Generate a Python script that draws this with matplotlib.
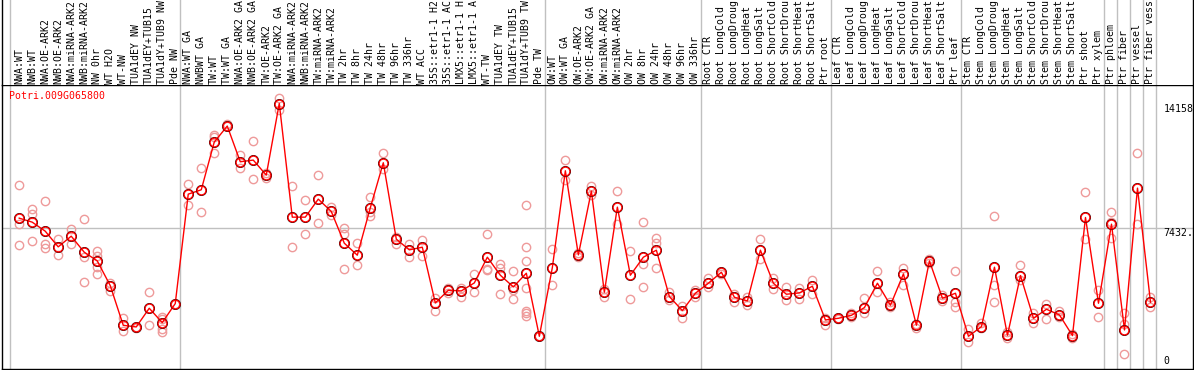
import numpy as np
import matplotlib.pyplot as plt

gene = "Potri.009G065800"

labels = ["NWA:WT", "NWB:WT", "NWA:OE-ARK2", "NWB:OE-ARK2", "NWA:miRNA-ARK2", "NWB:miRNA-ARK2",
          "NW 0hr", "WT H2O", "WT-NW", "TUA1dEY NW", "TUA1dEY+TUB15 NW", "TUA1dY+TUB9 NW", "Pde NW",
          "NWA:WT GA", "NWBWT GA", "TW:WT", "TW:WT GA", "NWA:OE-ARK2 GA", "NWB:OE-ARK2 GA",
          "TW:OE-ARK2", "TW:OE-ARK2 GA", "NWA:miRNA-ARK2 GA", "NWB:miRNA-ARK2 GA", "TW:miRNA-ARK2",
          "TW:miRNA-ARK2 GA", "TW 2hr", "TW 8hr", "TW 24hr", "TW 48hr", "TW 96hr", "TW 336hr", "WT ACC",
          "35S::etr1-1 H2O", "35S::etr1-1 ACC", "LMX5::etr1-1 H2O", "LMX5::etr1-1 ACC", "WT-TW",
          "TUA1dEY TW", "TUA1dEY+TUB15 TW", "TUA1dY+TUB9 TW", "Pde TW",
          "OW:WT", "OW:WT GA", "OW:OE-ARK2", "OW:OE-ARK2 GA", "OW:miRNA-ARK2", "OW:miRNA-ARK2 GA",
          "OW 2hr", "OW 8hr", "OW 24hr", "OW 48hr", "OW 96hr", "OW 336hr",
          "Root CTR", "Root LongCold", "Root LongDrought", "Root LongHeat", "Root LongSalt",
          "Root ShortCold", "Root ShortDrought", "Root ShortHeat", "Root ShortSalt", "Ptr root",
          "Leaf CTR", "Leaf LongCold", "Leaf LongDrought", "Leaf LongHeat", "Leaf LongSalt",
          "Leaf ShortCold", "Leaf ShortDrought", "Leaf ShortHeat", "Leaf ShortSalt", "Ptr leaf",
          "Stem CTR", "Stem LongCold", "Stem LongDrought", "Stem LongHeat", "Stem LongSalt",
          "Stem ShortCold", "Stem ShortDrought", "Stem ShortHeat", "Stem ShortSalt", "Ptr shoot",
          "Ptr xylem", "Ptr phloem", "Ptr fiber", "Ptr vessel", "Ptr fiber vessel"]

group_sizes = [13, 28, 12, 10, 10, 11, 1, 1, 1, 1]

means = [7974, 7758, 7272, 6426, 7002, 6138, 5670, 4338, 2196, 2106, 3114, 2340, 3366,
         9270, 9504, 12078, 12942, 11016, 11106, 10296, 14158, 8028, 8028, 9000, 8334, 6624,
         5976, 8532, 10962, 6840, 6264, 6408, 3402, 4086, 4050, 4482, 5868, 4896, 4266, 5004, 1602,
         5310, 10530, 5994, 9432, 3978, 8568, 4896, 5868, 6246, 3744, 2988, 3924,
         4464, 5058, 3708, 3510, 6246, 4464, 3870, 3942, 4302, 2484,
         2574, 2736, 3150, 4464, 3276, 4968, 2196, 5670, 3654, 3924,
         1602, 2124, 5328, 1656, 4878, 2574, 3060, 2754, 1638, 8010, 3384,
         7650, 1944, 9594, 3438]

reps = [[9756, 7668, 6534], [8460, 8208, 6732], [8910, 6588, 6354], [6858, 5976], [7398, 6606],
        [7920, 5904, 4536], [6210, 5958, 5346, 4950], [4500, 4068], [2592, 1908], [2106, 2034],
        [3996, 2196], [2664, 2520, 1980, 1854], [3366, 3366],
        [9810, 8676], [10674, 8298], [12438, 12348, 11484], [13050, 12942], [11394, 10656],
        [12150, 10098], [10404, 10134], [14454, 13824], [9702, 6408], [8964, 7110], [10296, 7704],
        [8550, 8154], [7452, 7128, 5220], [6624, 5436], [9126, 8280, 8064], [11502, 10638],
        [6984, 6588], [6588, 5868], [6804, 5922], [3654, 2952], [4194, 3924], [4194, 3744],
        [4950, 4014], [7110, 5256, 5184], [5526, 5310, 3870], [5112, 4104, 3600],
        [8676, 6408, 5652, 4194, 2988, 2844, 2700], [1602, 1602],
        [6300, 4356], [11106, 10008], [6084, 5904], [9684, 9216], [4158, 3744], [9432, 7668],
        [6192, 3600], [7758, 5526, 4248], [6894, 6624, 5274], [4014, 3564], [3240, 2610], [4104, 3744],
        [4734, 4248], [5094, 4950], [3906, 3456], [3294, 3726], [6858, 5760], [4752, 4140],
        [4266, 3564], [4212, 3618], [4644, 3870], [2592, 2214],
        [2610, 2520], [2880, 2664], [3654, 2844], [5112, 3978], [3456, 3168], [5310, 4356],
        [2250, 2052], [5778, 5580], [3834, 3528], [5112, 3456, 3204],
        [1980, 1278], [2340, 2052], [8082, 4356, 3456], [1836, 1494], [5454, 4626], [2862, 2304],
        [3366, 2556], [2988, 2664], [1728, 1512], [9378, 6840], [4104, 2664],
        [8316, 7776, 6894], [2844, 2268, 630], [11484, 7650], [3708, 3204]]

mono = "DejaVu Sans Mono"
fs = 7.1
grey = "#c0c0c0"
x = np.arange(len(means))
ymax = max(means)
mid = ymax * 1.05 / 2

fig = plt.figure(figsize=(11.94, 3.70), dpi=100)
W, H = 1194.0, 370.0
ax = fig.add_axes([1.5 / W, 1 / H, 1191 / W, 284 / H])
axt = fig.add_axes([1.5 / W, 285 / H, 1191 / W, 85 / H], sharex=ax)

ax.set_xlim(-1.362, 90.23)
ax.set_ylim(-162, 15156)
axt.set_ylim(0, 85)

seps = [-0.7] + [c - 0.6 for c in np.cumsum(group_sizes)]
for s in seps:
    ax.axvline(s, color=grey, lw=1, zorder=1)
    axt.axvline(s, color=grey, lw=1, zorder=1)
ax.axhline(mid, color=grey, lw=1, zorder=1)

for i, r in enumerate(reps):
    ax.plot([i] * len(r), r, "o", ms=6, mfc="none", mec="#ee9a9a", mew=1.0, zorder=2)
ax.plot(x, means, "-", color="red", lw=1, zorder=3)
ax.plot(x, means, "o", ms=7.2, mfc="none", mec="black", mew=0.7, zorder=4)
ax.plot(x, means, "o", ms=6.4, mfc="none", mec="red", mew=1.0, zorder=5)

ax.text(-0.75, 14580, gene, color="red", family=mono, fontsize=fs, va="center", ha="left")
# the reference only has room for 5 characters of the right-hand labels
ax.text(88.0, ymax, f"{ymax:.0f}", family=mono, fontsize=fs, va="top", ha="left")
ax.text(88.0, mid, f"{mid:.2f}"[:5], family=mono, fontsize=fs, va="top", ha="left")
ax.text(88.0, 0, "0", family=mono, fontsize=fs, va="bottom", ha="left")

# column names are cut to what fits in the header strip (14 characters)
for i, lab in enumerate(labels):
    axt.text(i, 1.2, lab[:14].rstrip(), rotation=90, family=mono, fontsize=fs,
             ha="center", va="bottom")

for a in (ax, axt):
    a.set_xticks([])
    a.set_yticks([])
    for sp in a.spines.values():
        sp.set_color("black")
        sp.set_linewidth(1)
axt.spines["top"].set_visible(False)
axt.spines["bottom"].set_visible(False)

fig.savefig("out.png", dpi=100)
